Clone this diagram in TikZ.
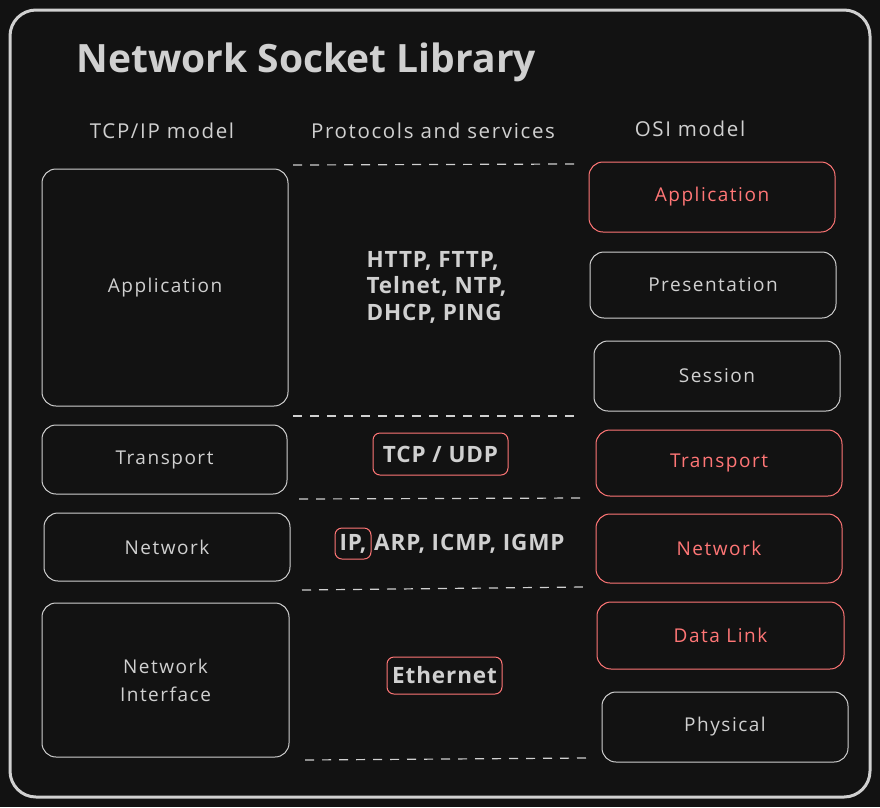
\documentclass[tikz,border=0pt]{standalone}
\usepackage{fontspec}
\setmainfont{Open Sans}
\newfontfamily\handfont[LetterSpace=8]{Open Sans}
\newfontfamily\protofont[LetterSpace=4]{Open Sans}
\usetikzlibrary{positioning}
\definecolor{bgdark}{RGB}{18,18,18}
\definecolor{inkgray}{RGB}{208,208,208}
\definecolor{inkred}{RGB}{255,118,118}
\tikzset{
    frameline/.style={draw=inkgray,line width=3pt,rounded corners=26pt},
    layerbox/.style={draw=inkgray,text=inkgray,line width=1pt,rounded corners=14pt,
        inner sep=0pt,align=center,font=\handfont\fontsize{19}{28}\selectfont},
    hilitebox/.style={layerbox,draw=inkred,text=inkred},
    headtext/.style={text=inkgray,font=\handfont\fontsize{20.5}{24}\selectfont},
    titletext/.style={text=inkgray,font=\bfseries\fontsize{39}{44}\selectfont},
    prototext/.style={text=inkgray,align=left,font=\protofont\bfseries\fontsize{22.5}{26.5}\selectfont},
    protobox/.style={prototext,draw=inkred,line width=1pt,rounded corners=7pt,inner sep=0pt},
    splitline/.style={draw=inkgray,line width=1.2pt,dash pattern=on 9pt off 8pt}
}

\begin{document}
\begin{tikzpicture}[x=1pt,y=-1pt]
    % Background and frame
    \fill[bgdark] (0,0) rectangle (880,807);
    \useasboundingbox (0,0) rectangle (880,807);
    \draw[frameline] (10,10) rectangle (870,797);
    % Title and column heads
    \node[titletext,anchor=west] (title) at (73,62) {Network Socket Library};
    \node[headtext] (tcphead) at (162,131) {TCP/IP model};
    \node[headtext] (prothead) at (433,131) {Protocols and services};
    \node[headtext] (osihead) at (690,129) {OSI model};
    % TCP/IP layers
    \node[layerbox,minimum width=246,minimum height=237] (tcpapp) at (165,287.5) {Application};
    \node[layerbox,minimum width=245,minimum height=69] (tcptrans) at (164.5,459.5) {Transport};
    \node[layerbox,minimum width=246,minimum height=68] (tcpnet) at (167,547) {Network};
    \node[layerbox,minimum width=247,minimum height=154] (tcpiface) at (165.5,680) {Network\\Interface};
    % OSI layers
    \node[hilitebox,minimum width=246,minimum height=70] (osiapp) at (712,197) {Application};
    \node[layerbox,minimum width=246,minimum height=66] (osipres) at (713,285) {Presentation};
    \node[layerbox,minimum width=246,minimum height=70] (osisess) at (717,376) {Session};
    \node[hilitebox,minimum width=246,minimum height=66] (ositrans) at (719,463) {Transport};
    \node[hilitebox,minimum width=246,minimum height=69] (osinet) at (719,548.5) {Network};
    \node[hilitebox,minimum width=247,minimum height=67] (osilink) at (720.5,635.5) {Data Link};
    \node[layerbox,minimum width=246,minimum height=70] (osiphys) at (725,727) {Physical};
    % Layer boundaries
    \coordinate (sepa1) at (293,165);  \coordinate (sepa2) at (574,164);
    \coordinate (sepb1) at (293,416);  \coordinate (sepb2) at (575,416);
    \coordinate (sepc1) at (299,499);  \coordinate (sepc2) at (582,498);
    \coordinate (sepd1) at (302,590);  \coordinate (sepd2) at (583,587);
    \coordinate (sepe1) at (305,760);  \coordinate (sepe2) at (587,758);
    \draw[splitline] (sepa1) -- (sepa2);
    \draw[splitline] (sepb1) -- (sepb2);
    \draw[splitline] (sepc1) -- (sepc2);
    \draw[splitline] (sepd1) -- (sepd2);
    \draw[splitline] (sepe1) -- (sepe2);
    % Protocols
    \node[prototext,anchor=west] (appproto) at (363,287) {HTTP, FTTP,\\Telnet, NTP,\\DHCP, PING};
    \node[protobox,minimum width=135,minimum height=42] (tcpudp) at (440.5,454) {TCP / UDP};
    \node[protobox,minimum width=36,minimum height=31] (ipproto) at (353,543.5) {IP,};
    \node[prototext,anchor=west,inner sep=0pt] (netproto) at (374,544) {ARP, ICMP, IGMP};
    \node[protobox,minimum width=115,minimum height=37] (ether) at (444.5,675.5) {Ethernet};
\end{tikzpicture}
\end{document}
